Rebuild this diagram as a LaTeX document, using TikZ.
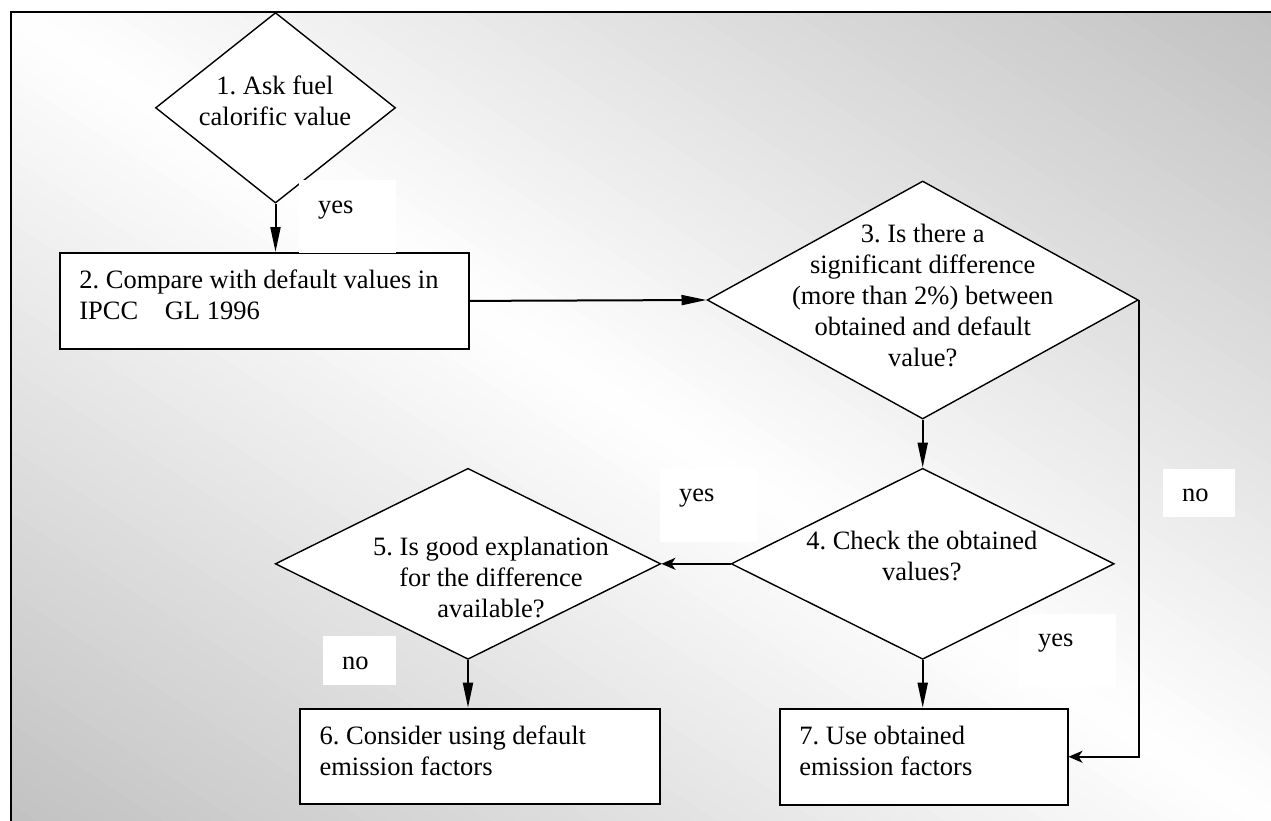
\documentclass[tikz,border=0pt]{standalone}
\usepackage{fontspec}
\setmainfont{Liberation Serif}
\usetikzlibrary{shapes.geometric,arrows.meta}
\definecolor{gbase}{gray}{0.76}
\begin{document}
\begin{tikzpicture}[x=1pt,y=-1pt,
  every node/.style={font=\fontsize{26.5}{31}\selectfont\frenchspacing},
  dia/.style={shape=diamond, draw=black, fill=white, line width=1.4pt, inner sep=0pt},
  procbox/.style={shape=rectangle, draw=black, fill=white, line width=1.8pt, inner xsep=19.5pt, inner ysep=0pt, align=flush left, anchor=north west},
  dtext/.style={align=center, inner sep=0pt},
  labbox/.style={fill=white, draw=none, inner sep=0pt, anchor=north west},
  labtext/.style={inner sep=0pt, anchor=base west},
  conn/.style={line width=2pt, -{Triangle[length=25pt,width=10pt]}},
  connb/.style={line width=2pt, -{Stealth[length=14pt,width=12pt,inset=4pt]}},
]
\useasboundingbox (0,0) rectangle (1271,820);
\clip (0,0) rectangle (1271,820);
\fill[white] (0,0) rectangle (1271,820);
% gradient background
\begin{scope}
  \clip (10.5,12) rectangle (1290,840);
  \begin{scope}[shift={(10.5,12)}, xscale=1260.5, yscale=808]
    \foreach \k in {0,...,99}{
      \pgfmathsetmacro{\ta}{-1+\k/50}
      \pgfmathsetmacro{\tb}{\ta+0.025}
      \pgfmathsetmacro{\q}{abs(\ta+0.01)*100}
      \fill[gbase!\q!white] (\ta-1,-1) -- (\ta+2,2) -- (\tb+2,2) -- (\tb-1,-1) -- cycle;
    }
  \end{scope}
\end{scope}
% frame
\draw[line width=2pt] (10.5,900) -- (10.5,12) -- (1300,12);

% decisions
\node[dia, minimum width=240pt, minimum height=190.5pt] (d1) at (275.5,107.8) {};
\node[dtext] (t1) at (275,100.6) {1. Ask fuel\\calorific value};

\node[dia, minimum width=431pt, minimum height=238pt] (d3) at (922.7,300) {};
\node[dtext] (t3) at (922.7,295.6) {3. Is there a\\significant difference\\(more than 2\%) between\\obtained and default\\value?};

\node[dia, minimum width=383pt, minimum height=191pt] (d4) at (922.7,563.8) {};
\node[dtext] (t4) at (921.8,555.8) {4. Check the obtained\\values?};

\node[dia, minimum width=385.5pt, minimum height=191pt] (d5) at (468,563.8) {};
\node[dtext] (t5) at (491,577) {5. Is good explanation\\for the difference\\available?};

% process boxes
\node[procbox, minimum width=409pt, minimum height=96pt, text width=370pt] (b2) at (59,252)
  {\mbox{2. Compare with default values in}\\IPCC\hspace{1em}GL 1996\rule[-13pt]{0pt}{13pt}};
\node[procbox, minimum width=360pt, minimum height=95.6pt, text width=321pt] (b6) at (299.2,707.7)
  {6. Consider using default\\emission factors\rule[-12pt]{0pt}{12pt}};
\node[procbox, minimum width=287.7pt, minimum height=96.3pt, text width=248.7pt] (b7) at (779,707.7)
  {7. Use obtained\\emission factors\rule[-12pt]{0pt}{12pt}};

% connectors
\draw[conn] (d1.south) -- (d1.south |- b2.north);
\draw[conn] (b2.east) -- (d3.west);
\draw[conn] (d3.south) -- (d4.north);
\draw[connb] (d4.west) -- (d5.east);
\draw[conn] (d5.south) -- (d5.south |- b6.north);
\draw[conn] (d4.south) -- (d4.south |- b7.north);
\draw[connb] (d3.east) |- (b7.east);

% labels
\node[labbox, minimum width=97pt, minimum height=73pt] (l1b) at (299,180) {};
\node[labtext] (l1) at (318,213) {yes};
\node[labbox, minimum width=97pt, minimum height=73pt] (l2b) at (660,468.5) {};
\node[labtext] (l2) at (679,501.7) {yes};
\node[labbox, minimum width=72pt, minimum height=48.5pt] (l3b) at (1162.7,468.3) {};
\node[labtext] (l3) at (1181.8,501.7) {no};
\node[labbox, minimum width=73.5pt, minimum height=49pt] (l4b) at (322.4,636) {};
\node[labtext] (l4) at (342,669) {no};
\node[labbox, minimum width=97pt, minimum height=73pt] (l5b) at (1019,614) {};
\node[labtext] (l5) at (1038,646.7) {yes};
\end{tikzpicture}
\end{document}
